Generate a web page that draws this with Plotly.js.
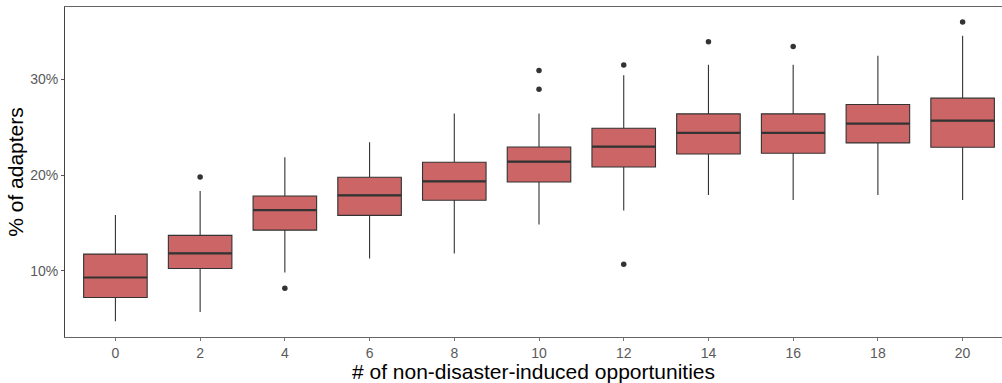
<!DOCTYPE html>
<html>
<head>
<meta charset="utf-8">
<script src="https://cdn.plot.ly/plotly-3.0.1.min.js"></script>
<style>
  html, body { margin: 0; padding: 0; background: #fff; }
  #chart { width: 1002px; height: 383px; }
</style>
</head>
<body>
<div id="chart"></div>
<script>
// Number of non-disaster-induced opportunities
const opportunities = [0, 2, 4, 6, 8, 10, 12, 14, 16, 18, 20];

// Box summary statistics (% of adapters)
const lowerWhisker = [4.74, 5.71, 9.83, 11.30, 11.82, 14.85, 16.31, 17.91, 17.39, 17.91, 17.39];
const q1Values     = [7.22, 10.25, 14.25, 15.79, 17.36, 19.27, 20.84, 22.20, 22.27, 23.35, 22.90];
const medianValues = [9.31, 11.82, 16.34, 17.88, 19.34, 21.39, 22.96, 24.39, 24.39, 25.37, 25.68];
const q3Values     = [11.75, 13.70, 17.81, 19.76, 21.33, 22.93, 24.88, 26.38, 26.38, 27.35, 28.02];
const upperWhisker = [15.82, 18.33, 21.85, 23.42, 26.41, 26.41, 30.42, 31.50, 31.50, 32.44, 34.53];

// Outlying runs
const outlierX = [2, 4, 10, 10, 12, 12, 14, 16, 20];
const outlierY = [19.79, 8.19, 30.91, 28.96, 31.47, 10.70, 33.90, 33.41, 35.96];

const yTicks = [10, 20, 30];

const boxes = {
  type: 'box',
  x: opportunities,
  q1: q1Values,
  median: medianValues,
  q3: q3Values,
  lowerfence: lowerWhisker,
  upperfence: upperWhisker,
  width: 1.5,
  whiskerwidth: 0,
  fillcolor: '#CC6666',
  line: { color: '#333333', width: 1.1 },
  hoverinfo: 'skip',
  showlegend: false
};

// Thicker median bars drawn on top of the boxes
const medians = {
  type: 'box',
  x: opportunities,
  q1: medianValues,
  median: medianValues,
  q3: medianValues,
  lowerfence: medianValues,
  upperfence: medianValues,
  width: 1.5,
  whiskerwidth: 0,
  fillcolor: 'rgba(0,0,0,0)',
  line: { color: '#333333', width: 2.2 },
  hoverinfo: 'skip',
  showlegend: false
};

const outliers = {
  type: 'scatter',
  mode: 'markers',
  x: outlierX,
  y: outlierY,
  marker: { color: '#333333', size: 5.5 },
  hoverinfo: 'skip',
  showlegend: false
};

const layout = {
  width: 1002,
  height: 383,
  margin: { l: 65.3, r: 0, t: 7.3, b: 46.3 },
  paper_bgcolor: '#ffffff',
  plot_bgcolor: '#ffffff',
  boxmode: 'overlay',
  font: { family: 'Liberation Sans, Arial, sans-serif', color: '#4D4D4D', size: 14 },
  xaxis: {
    range: [-1.19, 20.93],
    tickvals: opportunities,
    ticktext: opportunities.map(String),
    ticks: 'outside',
    ticklen: 3,
    tickcolor: '#777777',
    tickfont: { size: 14, color: '#5A5A5A' },
    showgrid: false,
    zeroline: false,
    showline: true,
    mirror: true,
    linecolor: '#666666',
    linewidth: 1,
    title: { text: '# of non-disaster-induced opportunities', font: { size: 21, color: '#000000' }, standoff: 0 }
  },
  yaxis: {
    range: [3.1, 37.53],
    tickvals: yTicks,
    ticktext: yTicks.map(v => v + '%'),
    ticks: 'outside',
    ticklen: 3,
    tickcolor: '#555555',
    tickfont: { size: 14, color: '#5A5A5A' },
    showgrid: false,
    zeroline: false,
    showline: true,
    linecolor: '#444444',
    linewidth: 1,
    title: { text: '% of adapters', font: { size: 21, color: '#000000' }, standoff: 0 }
  }
};

Plotly.newPlot('chart', [boxes, medians, outliers], layout, { staticPlot: true, displayModeBar: false });
</script>
</body>
</html>
